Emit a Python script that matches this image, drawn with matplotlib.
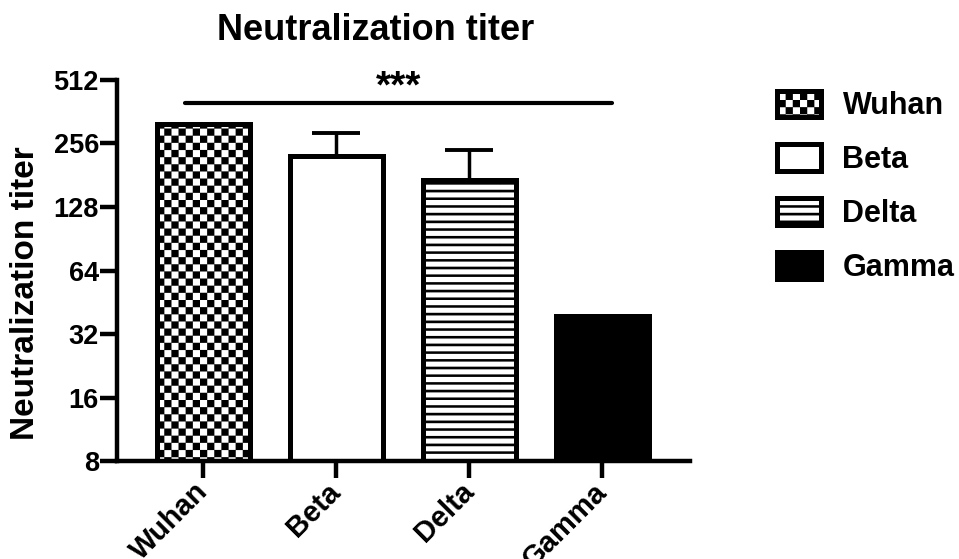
import warnings
import numpy as np
import matplotlib
matplotlib.use('Agg')
import matplotlib.pyplot as plt
import matplotlib.hatch as mhatch
from matplotlib.path import Path

warnings.simplefilter('ignore')

# data
variants = ['Wuhan', 'Beta', 'Delta', 'Gamma']
titer = [317, 223, 172, 39]
titer_err_up = [0, 65, 67, 0]
yticks = [8, 16, 32, 64, 128, 256, 512]
sig_pair = (0, 3)      # bars joined by the *** line
sig_level = 400
sig_text = '***'


# custom filled hatches: 'c' = checkerboard, 'h' = thick horizontal stripes
class CheckerHatch(mhatch.HatchPatternBase):
    def __init__(self, hatch, density):
        verts = []
        if 'c' in hatch:
            n = 14
            for i in range(n):
                for j in range(n):
                    if (i + j) % 2 == 0:
                        x0, y0 = i / n, j / n
                        verts += [(x0, y0), (x0 + 1 / n, y0), (x0 + 1 / n, y0 + 1 / n),
                                  (x0, y0 + 1 / n), (x0, y0)]
        self.verts = np.array(verts, float).reshape(-1, 2)
        self.num_vertices = len(self.verts)

    def set_vertices_and_codes(self, vertices, codes):
        vertices[:] = self.verts
        codes[:] = np.tile([Path.MOVETO, Path.LINETO, Path.LINETO, Path.LINETO,
                            Path.CLOSEPOLY], self.num_vertices // 5)


class StripeHatch(mhatch.HatchPatternBase):
    def __init__(self, hatch, density):
        verts = []
        if 'h' in hatch:
            n = 13
            t = 0.32 / n
            for j in range(n):
                y0 = j / n
                verts += [(0, y0), (1, y0), (1, y0 + t), (0, y0 + t), (0, y0)]
        self.verts = np.array(verts, float).reshape(-1, 2)
        self.num_vertices = len(self.verts)

    def set_vertices_and_codes(self, vertices, codes):
        vertices[:] = self.verts
        codes[:] = np.tile([Path.MOVETO, Path.LINETO, Path.LINETO, Path.LINETO,
                            Path.CLOSEPOLY], self.num_vertices // 5)


mhatch._hatch_types.append(CheckerHatch)
mhatch._hatch_types.append(StripeHatch)

plt.rcParams['font.family'] = ['Liberation Sans', 'DejaVu Sans']
plt.rcParams['font.weight'] = 'bold'
plt.rcParams['hatch.linewidth'] = 0.1

fig = plt.figure(figsize=(9.59, 5.59), dpi=100)
ax = fig.add_axes([0.122, 0.1753, 0.5975, 0.6816])

x = np.arange(len(variants))
faces = ['white', 'white', 'white', 'black']
hatches = ['c', None, 'h', None]

ax.errorbar(x, titer, yerr=[np.zeros(len(x)), titer_err_up], fmt='none',
            ecolor='black', elinewidth=2.5, capsize=17, capthick=2.8, zorder=1)
bars = ax.bar(x, titer, width=0.70, color=faces, edgecolor='black',
              linewidth=3.6, zorder=2)
for b, h in zip(bars, hatches):
    if h:
        b.set_hatch(h)
for b, lab in zip(bars, variants):
    b.set_label(lab)

ax.set_yscale('log', base=2)
ax.set_ylim(8, 512)
ax.set_yticks(yticks)
ax.set_yticklabels([str(v) for v in yticks])
ax.minorticks_off()
ax.set_xlim(-0.65, 3.66)
ax.set_xticks(x)
ax.set_xticklabels([])
# rotated category labels, placed below the ticks
for xi, lab in zip(x, variants):
    ax.annotate(lab, xy=(xi, 0), xycoords=('data', 'axes fraction'),
                xytext=(0, -19), textcoords='offset points', rotation=45,
                ha='right', va='center', rotation_mode='anchor',
                fontsize=21, fontweight='bold', annotation_clip=False)

for s in ['top', 'right']:
    ax.spines[s].set_visible(False)
for s in ['left', 'bottom']:
    ax.spines[s].set_linewidth(3.2)
ax.tick_params(axis='both', width=3.2, length=12, labelsize=19.5, pad=1)

ax.set_ylabel('Neutralization titer', fontsize=24, fontweight='bold')
ax.yaxis.set_label_coords(-0.132, 0.44)
ax.set_title('Neutralization titer', fontsize=26, fontweight='bold',
             x=0.452, pad=29)

# significance line
x0 = x[sig_pair[0]] - 0.14
x1 = x[sig_pair[1]] + 0.07
ax.plot([x0, x1], [sig_level, sig_level], color='black', lw=3,
        solid_capstyle='round', clip_on=False, zorder=3)
ax.text((x0 + x1) / 2, sig_level * 0.97, sig_text, ha='center', va='bottom',
        fontsize=28, fontweight='bold')

ax.legend(loc='upper left', bbox_to_anchor=(0.81, 0.838),
          bbox_transform=fig.transFigure, frameon=False, fontsize=22,
          handlelength=1.45, handleheight=0.95, labelspacing=0.76,
          handletextpad=0.7, borderpad=0, borderaxespad=0)

fig.savefig('out.png', dpi=100)
